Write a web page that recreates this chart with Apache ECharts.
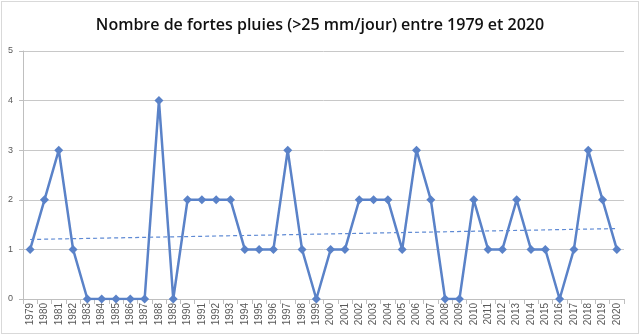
<!DOCTYPE html>
<html>
<head>
<meta charset="utf-8">
<script src="https://cdn.jsdelivr.net/npm/echarts@6/dist/echarts.min.js"></script>
<style>
  html, body { margin: 0; padding: 0; background: #fff; }
  #chart { position: absolute; left: 1px; top: 1px; width: 636px; height: 331px; border: 1px solid #d9d9d9; }
</style>
</head>
<body>
<div id="chart"></div>
<script>
var years = [];
for (var y = 1979; y <= 2020; y++) { years.push(String(y)); }

var pluies = [1, 2, 3, 1, 0, 0, 0, 0, 0, 4, 0, 2, 2, 2, 2, 1, 1, 1, 3, 1, 0,
              1, 1, 2, 2, 2, 1, 3, 2, 0, 0, 2, 1, 1, 2, 1, 1, 0, 1, 3, 2, 1];

// tendance lineaire (debut, fin)
var trendStart = 1.2;
var trendEnd = 1.42;

var myChart = echarts.init(document.getElementById('chart'));

var option = {
    animation: false,
    title: {
        text: 'Nombre de fortes pluies (>25 mm/jour) entre 1979 et 2020',
        left: 'center',
        top: 10,
        textStyle: {
            fontFamily: 'Open Sans',
            fontSize: 16,
            fontWeight: 600,
            color: '#111'
        }
    },
    grid: {
        left: 21,
        right: 14,
        top: 49,
        bottom: 34
    },
    xAxis: {
        type: 'category',
        data: years,
        boundaryGap: true,
        axisLine: { lineStyle: { color: '#bfbfbf' } },
        axisTick: { show: true, interval: 0, length: 5, lineStyle: { color: '#bfbfbf' } },
        axisLabel: {
            interval: 0,
            rotate: 90,
            fontSize: 10,
            color: '#595959',
            fontFamily: 'Liberation Sans',
            margin: 4
        }
    },
    yAxis: {
        type: 'value',
        min: 0,
        max: 5,
        interval: 1,
        axisLine: { show: true, lineStyle: { color: '#bfbfbf' } },
        axisTick: { show: true, length: 4, lineStyle: { color: '#bfbfbf' } },
        axisLabel: { fontSize: 9, color: '#595959', fontFamily: 'Liberation Sans', margin: 10 },
        splitLine: { lineStyle: { color: '#c8c8c8', width: 1 } }
    },
    series: [
        {
            name: 'Fortes pluies',
            type: 'line',
            data: pluies,
            symbol: 'diamond',
            symbolSize: 9,
            lineStyle: { color: '#5a82c8', width: 2.5 },
            itemStyle: { color: '#5a82c8' },
            markLine: {
                silent: true,
                symbol: 'none',
                label: { show: false },
                lineStyle: { color: '#5f8ad4', width: 1.2, type: [4, 3] },
                data: [[
                    { coord: [years[0], trendStart] },
                    { coord: [years[years.length - 1], trendEnd] }
                ]]
            }
        }
    ]
};
myChart.setOption(option);
</script>
</body>
</html>
